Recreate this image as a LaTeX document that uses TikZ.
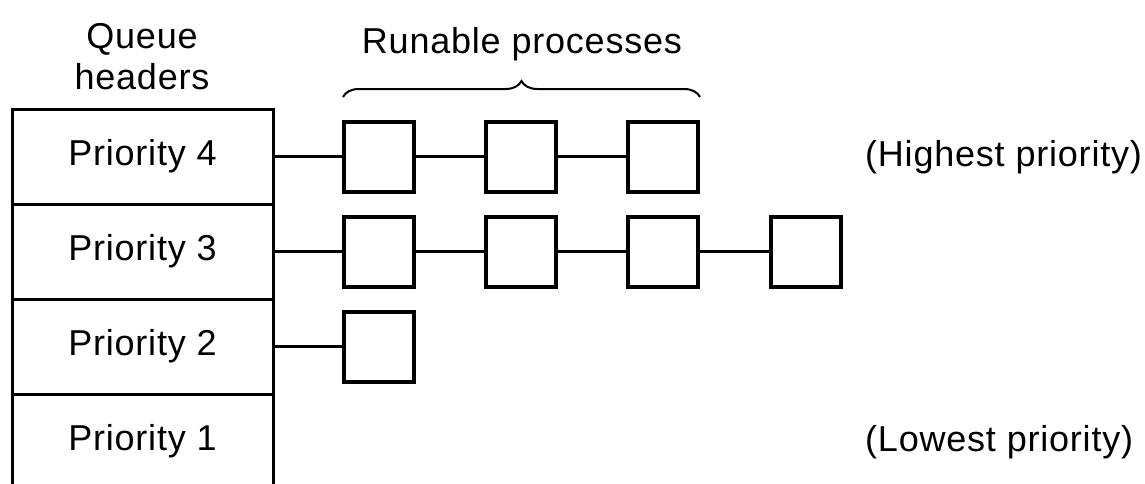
\documentclass[tikz,border=0pt]{standalone}
\usepackage{fontspec}
\setmainfont{Liberation Sans}[LetterSpace=2.2]
\usetikzlibrary{decorations.pathreplacing}
\begin{document}
\begin{tikzpicture}[x=1pt,y=-1pt,
  txt/.style={font=\fontsize{36}{41}\selectfont, inner sep=0pt},
  side/.style={font=\fontsize{36}{41}\selectfont, inner sep=0pt, anchor=west},
  hdr/.style={draw, line width=3pt, minimum width=261pt, minimum height=95pt, inner sep=0pt, font=\fontsize{36}{41}\selectfont},
  proc/.style={draw, line width=4pt, minimum size=70pt, inner sep=0pt},
  link/.style={line width=3pt}]
\useasboundingbox (0,0) rectangle (1145,483);
% queue headers
\node[hdr] (p4) at (142.5,156.5) {Priority 4};
\node[hdr] (p3) at (142.5,251.5) {Priority 3};
\node[hdr] (p2) at (142.5,346.5) {Priority 2};
\node[hdr] (p1) at (142.5,441.5) {Priority 1};
\node[txt, align=center] (qh) at (142,57) {Queue\\headers};
% processes
\node[proc] (a1) at (379,156.5) {};
\node[proc] (a2) at (521,156.5) {};
\node[proc] (a3) at (663,156.5) {};
\node[proc] (b1) at (379,251.5) {};
\node[proc] (b2) at (521,251.5) {};
\node[proc] (b3) at (663,251.5) {};
\node[proc] (b4) at (806,251.5) {};
\node[proc] (c1) at (379,346.5) {};
% links
\draw[link] (p4.east) -- (a1.west);
\draw[link] (a1) -- (a2);
\draw[link] (a2) -- (a3);
\draw[link] (p3.east) -- (b1.west);
\draw[link] (b1) -- (b2);
\draw[link] (b2) -- (b3);
\draw[link] (b3) -- (b4);
\draw[link] (p2.east) -- (c1.west);
% brace
\coordinate (bl) at (343,97);
\coordinate (br) at (700,97);
\draw[line width=2pt, decorate, decoration={brace, amplitude=16pt}] (bl) -- (br);
\node[txt] (rp) at (522,44) {Runable processes};
% side labels
\node[side] (hi) at (865,157) {(Highest priority)};
\node[side] (lo) at (865,442) {(Lowest priority)};
\end{tikzpicture}
\end{document}
